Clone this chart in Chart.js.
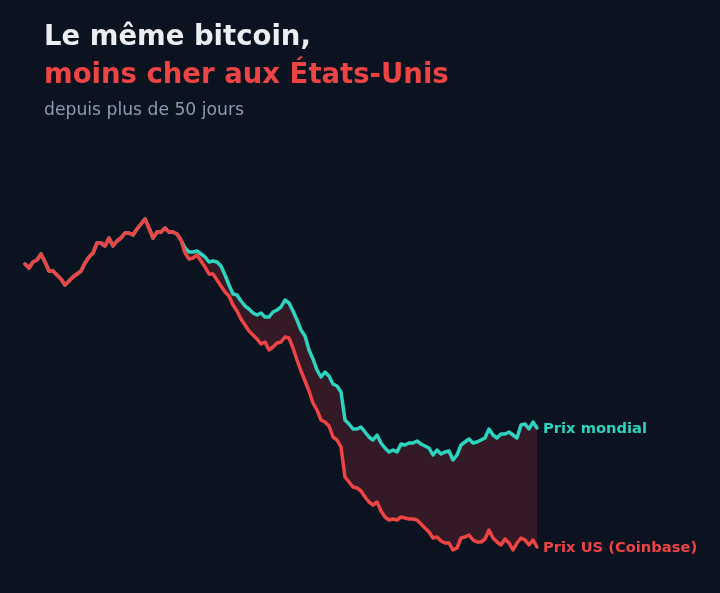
<!DOCTYPE html>
<html>
<head>
<meta charset="utf-8">
<script src="https://cdn.jsdelivr.net/npm/chart.js@4.4.1/dist/chart.umd.min.js"></script>
<style>
  html, body { margin: 0; padding: 0; background: #0b1220; }
  #wrap { position: relative; width: 720px; height: 593px; overflow: hidden; background: #0b1220; }
  canvas { position: absolute; left: 0; top: 0; }
  .t { position: absolute; left: 44px; white-space: nowrap; font-family: "DejaVu Sans", sans-serif; line-height: 1.2; }
  #t1 { top: 19px; font-size: 27.5px; font-weight: bold; color: #eceef2; }
  #t2 { top: 57px; font-size: 27.5px; font-weight: bold; color: #ef4444; }
  #t3 { top: 99px; font-size: 17.2px; color: #8d9bb0; }
</style>
</head>
<body>
<div id="wrap">
  <canvas id="c" width="720" height="593"></canvas>
  <div class="t" id="t1">Le même bitcoin,</div>
  <div class="t" id="t2">moins cher aux États-Unis</div>
  <div class="t" id="t3">depuis plus de 50 jours</div>
</div>
<script>
// Series values (relative price index)
const prixUS = [336,332,338,340,346,338,329,329,325,321,
  315,319,323,326,329,337,343,347,357,357,
  354,362,354,359,362,367,367,365,371,376,
  381,372,362,368,368,372,368,368,366,360,
  347,341,342,345,339,333,326,326,320,314,
  308,304,295,289,281,275,269,265,261,256,
  258,250,253,257,258,263,262,252,240,229,
  219,209,197,190,180,178,174,163,160,153,
  123,118,113,112,109,103,98,95,98,89,
  83,80,81,80,83,82,81,81,80,76,
  72,68,62,63,59,57,57,50,52,62,
  63,65,60,58,58,61,70,62,58,55,
  61,57,50,57,62,60,55,60,53];

const prixMondial = [336,332,338,340,346,338,329,329,325,321,
  315,319,323,326,329,337,343,347,357,357,
  354,362,354,359,362,367,367,365,371,376,
  381,372,362,368,368,372,368,368,366,360,
  352,348,348,349,346,343,338,339,338,334,
  325,315,306,305,299,294,291,287,285,287,
  283,283,288,290,293,300,297,289,280,270,
  264,250,241,230,223,228,224,216,214,208,
  180,176,171,171,173,168,163,160,165,157,
  152,148,150,148,156,155,157,157,159,156,
  154,152,145,150,146,148,149,140,145,155,
  158,161,157,158,160,162,171,165,162,166,
  166,168,165,162,175,176,171,178,172];

const categories = prixUS.map((_, i) => i);
const seriesNames = ["Prix US (Coinbase)", "Prix mondial"];

const RED = "#ef4444";
const TEAL = "#2dd4bf";

const endLabels = {
  id: "endLabels",
  afterDatasetsDraw(chart) {
    const ctx = chart.ctx;
    ctx.save();
    ctx.font = "bold 14.7px 'DejaVu Sans', sans-serif";
    ctx.textBaseline = "middle";
    ctx.textAlign = "left";
    chart.data.datasets.forEach((ds, i) => {
      const meta = chart.getDatasetMeta(i);
      const pt = meta.data[meta.data.length - 1];
      ctx.fillStyle = ds.borderColor;
      ctx.fillText(ds.label, pt.x + 6, pt.y + 1);
    });
    ctx.restore();
  }
};

new Chart(document.getElementById("c"), {
  type: "line",
  data: {
    labels: categories,
    datasets: [
      {
        label: seriesNames[0],
        data: prixUS,
        borderColor: RED,
        borderWidth: 3.5,
        pointRadius: 0,
        tension: 0,
        borderJoinStyle: "round",
        borderCapStyle: "round",
        fill: { target: 1, above: "rgba(236,66,72,0.18)", below: "rgba(236,66,72,0.18)" }
      },
      {
        label: seriesNames[1],
        data: prixMondial,
        borderColor: TEAL,
        borderWidth: 3.5,
        pointRadius: 0,
        tension: 0,
        borderJoinStyle: "round",
        borderCapStyle: "round",
        fill: false
      }
    ]
  },
  options: {
    responsive: false,
    animation: false,
    devicePixelRatio: 1,
    layout: { padding: { left: 25, right: 183, top: 150, bottom: 33 } },
    scales: {
      x: { display: false, offset: false },
      y: { display: false, min: 40, max: 450 }
    },
    plugins: {
      legend: { display: false },
      tooltip: { enabled: false },
      filler: { drawTime: "beforeDatasetsDraw" }
    }
  },
  plugins: [endLabels]
});
</script>
</body>
</html>
